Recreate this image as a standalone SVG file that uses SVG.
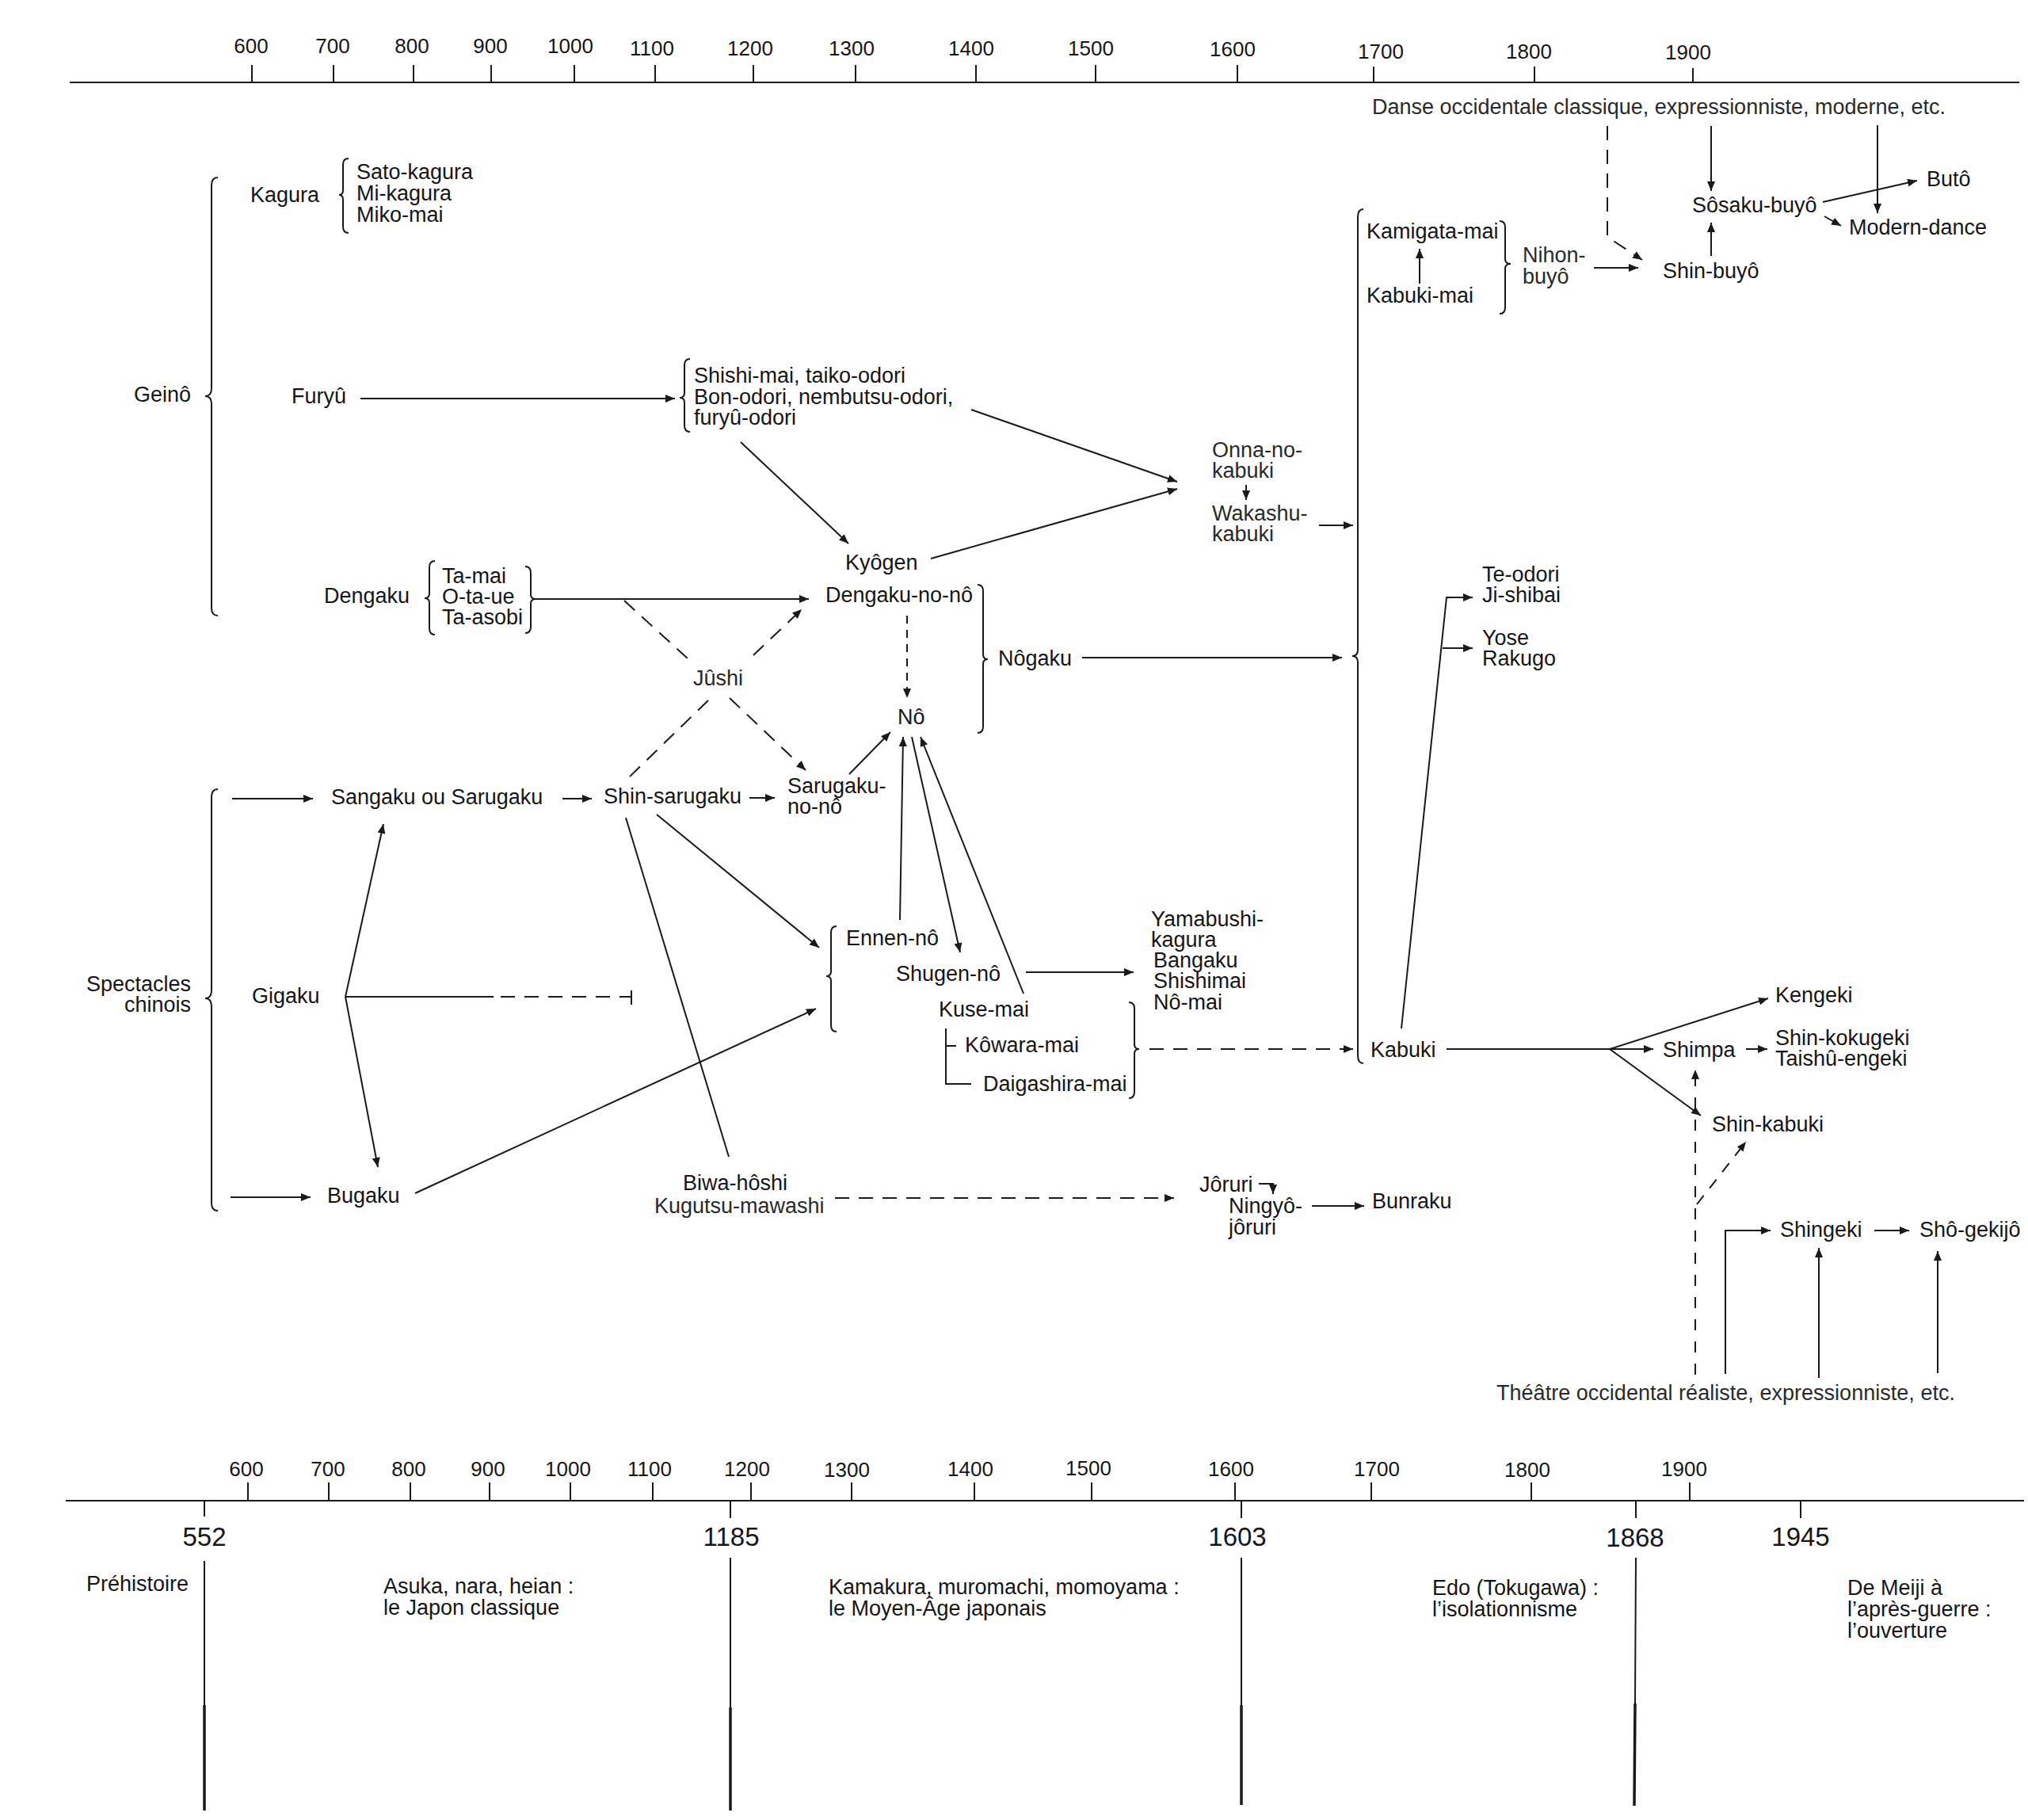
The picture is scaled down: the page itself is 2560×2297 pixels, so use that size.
<svg xmlns="http://www.w3.org/2000/svg" width="2560" height="2297" viewBox="0 0 2560 2297">
<style>
text{font-family:"Liberation Sans",Arial,sans-serif;font-size:27px;fill:#161616}
.lt{fill:#2a2a2a}
.big{font-size:33px}
.ax{text-anchor:middle;font-size:26px}
line,path,polyline{stroke:#1a1a1a;stroke-width:2;fill:none}
.d{stroke-dasharray:18 12}
.ds{stroke-dasharray:10 8}
.th{stroke-width:3.5}
.br{stroke-width:2}
</style>
<defs>
<marker id="a" viewBox="0 0 12 10" refX="12" refY="5" markerWidth="12" markerHeight="10" markerUnits="userSpaceOnUse" orient="auto">
<path d="M0,0 L12,5 L0,10 z" style="fill:#1a1a1a;stroke:none"/>
</marker>
</defs>

<g id="top-axis">
<line x1="88" y1="104" x2="2549" y2="104"/>
<line x1="318" y1="82" x2="318" y2="104"/><line x1="421" y1="82" x2="421" y2="104"/><line x1="522" y1="82" x2="522" y2="104"/><line x1="620" y1="82" x2="620" y2="104"/><line x1="725" y1="82" x2="725" y2="104"/><line x1="827" y1="82" x2="827" y2="104"/><line x1="951" y1="82" x2="951" y2="104"/><line x1="1080" y1="82" x2="1080" y2="104"/><line x1="1232" y1="82" x2="1232" y2="104"/><line x1="1383" y1="82" x2="1383" y2="104"/><line x1="1562" y1="82" x2="1562" y2="104"/><line x1="1734" y1="84" x2="1734" y2="104"/><line x1="1937" y1="84" x2="1937" y2="104"/><line x1="2137" y1="86" x2="2137" y2="104"/>
<text class="ax" x="317" y="67">600</text><text class="ax" x="420" y="67">700</text><text class="ax" x="520" y="67">800</text><text class="ax" x="619" y="67">900</text><text class="ax" x="720" y="67">1000</text><text class="ax" x="823" y="70">1100</text><text class="ax" x="947" y="70">1200</text><text class="ax" x="1075" y="70">1300</text><text class="ax" x="1226" y="70">1400</text><text class="ax" x="1377" y="70">1500</text><text class="ax" x="1556" y="71">1600</text><text class="ax" x="1743" y="74">1700</text><text class="ax" x="1930" y="74">1800</text><text class="ax" x="2131" y="75">1900</text>
</g>

<g id="bottom-axis">
<line x1="83" y1="1894" x2="2555" y2="1894"/>
<line x1="313" y1="1871" x2="313" y2="1894"/><line x1="415" y1="1871" x2="415" y2="1894"/><line x1="518" y1="1871" x2="518" y2="1894"/><line x1="618" y1="1871" x2="618" y2="1894"/><line x1="720" y1="1871" x2="720" y2="1894"/><line x1="824" y1="1871" x2="824" y2="1894"/><line x1="948" y1="1871" x2="948" y2="1894"/><line x1="1075" y1="1871" x2="1075" y2="1894"/><line x1="1230" y1="1871" x2="1230" y2="1894"/><line x1="1378" y1="1871" x2="1378" y2="1894"/><line x1="1559" y1="1871" x2="1559" y2="1894"/><line x1="1731" y1="1871" x2="1731" y2="1894"/><line x1="1933" y1="1871" x2="1933" y2="1894"/><line x1="2133" y1="1871" x2="2133" y2="1894"/>
<text class="ax" x="311" y="1863">600</text><text class="ax" x="414" y="1863">700</text><text class="ax" x="516" y="1863">800</text><text class="ax" x="616" y="1863">900</text><text class="ax" x="717" y="1863">1000</text><text class="ax" x="820" y="1863">1100</text><text class="ax" x="943" y="1863">1200</text><text class="ax" x="1069" y="1864">1300</text><text class="ax" x="1225" y="1863">1400</text><text class="ax" x="1374" y="1862">1500</text><text class="ax" x="1554" y="1863">1600</text><text class="ax" x="1738" y="1863">1700</text><text class="ax" x="1928" y="1864">1800</text><text class="ax" x="2126" y="1863">1900</text>
<line x1="258" y1="1894" x2="258" y2="1914"/><line x1="922" y1="1894" x2="922" y2="1916"/><line x1="1567" y1="1894" x2="1567" y2="1916"/><line x1="2065" y1="1894" x2="2065" y2="1916"/><line x1="2273" y1="1894" x2="2273" y2="1916"/>
<text class="big" x="258" y="1951" text-anchor="middle">552</text>
<text class="big" x="923" y="1951" text-anchor="middle">1185</text>
<text class="big" x="1562" y="1951" text-anchor="middle">1603</text>
<text class="big" x="2064" y="1952" text-anchor="middle">1868</text>
<text class="big" x="2273" y="1951" text-anchor="middle">1945</text>
<line x1="258" y1="1970" x2="258" y2="2152"/><line class="th" x1="258" y1="2152" x2="258" y2="2285"/>
<line x1="922" y1="1966" x2="922" y2="2155"/><line class="th" x1="922" y1="2155" x2="922" y2="2285"/>
<line x1="1567" y1="1966" x2="1567" y2="2152"/><line class="th" x1="1567" y1="2152" x2="1567" y2="2278"/>
<line x1="2065" y1="1966" x2="2064" y2="2150"/><line class="th" x1="2064" y1="2150" x2="2063" y2="2279"/>
<text x="109" y="2008">Préhistoire</text>
<text x="484" y="2011">Asuka, nara, heian :</text><text x="484" y="2038">le Japon classique</text>
<text x="1046" y="2012">Kamakura, muromachi, momoyama :</text><text x="1046" y="2039">le Moyen-Âge japonais</text>
<text x="1808" y="2013">Edo (Tokugawa) :</text><text x="1808" y="2040">l’isolationnisme</text>
<text x="2332" y="2013">De Meiji à</text><text x="2332" y="2040">l’après-guerre :</text><text x="2332" y="2067">l’ouverture</text>
</g>

<g id="connectors">
<line x1="455" y1="503" x2="852" y2="503" marker-end="url(#a)"/>
<line x1="1226" y1="517" x2="1486" y2="608" marker-end="url(#a)"/>
<line x1="1175" y1="705" x2="1486" y2="617" marker-end="url(#a)"/>
<line x1="935" y1="558" x2="1071" y2="686" marker-end="url(#a)"/>
<line x1="1573" y1="612" x2="1573" y2="631" marker-end="url(#a)"/>
<line x1="1665" y1="663" x2="1708" y2="663" marker-end="url(#a)"/>
<line x1="676" y1="756" x2="1021" y2="756" marker-end="url(#a)"/>
<line class="d" x1="788" y1="758" x2="869" y2="832"/>
<line class="d" x1="951" y1="827" x2="1012" y2="769" marker-end="url(#a)"/>
<line class="d" x1="921" y1="881" x2="1017" y2="972" marker-end="url(#a)"/>
<line class="d" x1="894" y1="884" x2="793" y2="982"/>
<line class="ds" x1="1145" y1="777" x2="1145" y2="881" marker-end="url(#a)"/>
<line x1="1366" y1="830" x2="1694" y2="830" marker-end="url(#a)"/>
<line x1="293" y1="1008" x2="395" y2="1008" marker-end="url(#a)"/>
<line x1="710" y1="1008" x2="747" y2="1008" marker-end="url(#a)"/>
<line x1="946" y1="1007" x2="978" y2="1007" marker-end="url(#a)"/>
<line x1="1072" y1="977" x2="1124" y2="924" marker-end="url(#a)"/>
<line x1="829" y1="1028" x2="1034" y2="1196" marker-end="url(#a)"/>
<line x1="790" y1="1032" x2="920" y2="1460"/>
<line x1="524" y1="1506" x2="1030" y2="1273" marker-end="url(#a)"/>
<line x1="1136" y1="1161" x2="1140" y2="930" marker-end="url(#a)"/>
<line x1="1151" y1="930" x2="1212" y2="1202" marker-end="url(#a)"/>
<line x1="1292" y1="1254" x2="1162" y2="930" marker-end="url(#a)"/>
<line x1="1295" y1="1227" x2="1431" y2="1227" marker-end="url(#a)"/>
<polyline points="1194,1298 1194,1368 1226,1368"/>
<line x1="1194" y1="1320" x2="1207" y2="1320"/>
<line class="d" x1="1451" y1="1324" x2="1708" y2="1324" marker-end="url(#a)"/>
<line x1="436" y1="1258" x2="484" y2="1040" marker-end="url(#a)"/>
<line x1="436" y1="1258" x2="477" y2="1473" marker-end="url(#a)"/>
<line x1="436" y1="1258" x2="623" y2="1258"/>
<line class="d" x1="632" y1="1258" x2="797" y2="1258"/>
<line x1="797" y1="1250" x2="797" y2="1268"/>
<line x1="291" y1="1511" x2="392" y2="1511" marker-end="url(#a)"/>
<line class="d" x1="1054" y1="1512" x2="1482" y2="1512" marker-end="url(#a)"/>
<polyline points="1589,1494 1607,1494 1607,1507" marker-end="url(#a)"/>
<line x1="1656" y1="1522" x2="1722" y2="1522" marker-end="url(#a)"/>
<polyline class="d" points="2029,159 2029,299 2073,328" marker-end="url(#a)"/>
<line x1="2160" y1="159" x2="2160" y2="241" marker-end="url(#a)"/>
<line x1="2370" y1="158" x2="2370" y2="269" marker-end="url(#a)"/>
<line x1="2301" y1="255" x2="2420" y2="228" marker-end="url(#a)"/>
<line x1="2303" y1="273" x2="2324" y2="285" marker-end="url(#a)"/>
<line x1="2160" y1="323" x2="2160" y2="281" marker-end="url(#a)"/>
<line x1="1792" y1="358" x2="1792" y2="314" marker-end="url(#a)"/>
<line x1="2012" y1="338" x2="2068" y2="338" marker-end="url(#a)"/>
<polyline points="1769,1298 1826,754 1859,754" marker-end="url(#a)"/>
<line x1="1821" y1="818" x2="1859" y2="818" marker-end="url(#a)"/>
<line x1="1826" y1="1324" x2="2032" y2="1324"/>
<line x1="2032" y1="1324" x2="2087" y2="1324" marker-end="url(#a)"/>
<line x1="2032" y1="1324" x2="2232" y2="1260" marker-end="url(#a)"/>
<line x1="2032" y1="1324" x2="2147" y2="1408" marker-end="url(#a)"/>
<line x1="2204" y1="1324" x2="2231" y2="1324" marker-end="url(#a)"/>
<line class="d" x1="2140" y1="1735" x2="2140" y2="1350" marker-end="url(#a)" style="stroke-dasharray:14 14"/>
<line class="d" x1="2142" y1="1520" x2="2204" y2="1441" marker-end="url(#a)" style="stroke-dasharray:14 12"/>
<polyline points="2178,1734 2178,1553 2235,1553" marker-end="url(#a)"/>
<line x1="2366" y1="1553" x2="2410" y2="1553" marker-end="url(#a)"/>
<line x1="2296" y1="1739" x2="2296" y2="1575" marker-end="url(#a)"/>
<line x1="2446" y1="1733" x2="2446" y2="1579" marker-end="url(#a)"/>
</g>

<g id="geino">
<path class="br" d="M275,224 Q267,224 267,234 L267,490 Q267,500 259,500 Q267,500 267,510 L267,767 Q267,777 275,777"/>
<text x="241" y="507" text-anchor="end">Geinô</text>
</g>
<g id="kagura">
<text x="316" y="255">Kagura</text>
<path class="br" d="M440,200 Q433,200 433,208 L433,240 Q433,246 428,246 Q433,246 433,252 L433,286 Q433,294 440,294"/>
<text x="450" y="226">Sato-kagura</text><text x="450" y="253">Mi-kagura</text><text x="450" y="280">Miko-mai</text>
</g>
<g id="furyu"><text x="368" y="509">Furyû</text></g>
<g id="furyu-odori">
<path class="br" d="M871,453 Q864,453 864,461 L864,496 Q864,502 858,502 Q864,502 864,508 L864,537 Q864,545 871,545"/>
<text x="876" y="483">Shishi-mai, taiko-odori</text><text x="876" y="510">Bon-odori, nembutsu-odori,</text><text x="876" y="536">furyû-odori</text>
</g>
<g id="kabuki-onna"><text class="lt" x="1530" y="577">Onna-no-</text><text class="lt" x="1530" y="603">kabuki</text><text class="lt" x="1530" y="657">Wakashu-</text><text class="lt" x="1530" y="683">kabuki</text></g>
<g id="kyogen"><text x="1067" y="719">Kyôgen</text></g>
<g id="dengaku">
<text x="409" y="761">Dengaku</text>
<path class="br" d="M549,708 Q542,708 542,716 L542,749 Q542,755 536,755 Q542,755 542,761 L542,793 Q542,801 549,801"/>
<text x="558" y="736">Ta-mai</text><text x="558" y="762">O-ta-ue</text><text x="558" y="788">Ta-asobi</text>
<path class="br" d="M663,715 Q670,715 670,723 L670,750 Q670,756 676,756 Q670,756 670,762 L670,791 Q670,799 663,799"/>
</g>
<g id="dengaku-no-no"><text x="1042" y="760">Dengaku-no-nô</text></g>
<g id="jushi"><text class="lt" x="875" y="865">Jûshi</text></g>
<g id="nogaku">
<path class="br" d="M1234,738 Q1241,738 1241,746 L1241,826 Q1241,832 1247,832 Q1241,832 1241,838 L1241,917 Q1241,925 1234,925"/>
<text x="1260" y="840">Nôgaku</text>
</g>
<g id="no"><text x="1133" y="914">Nô</text></g>
<g id="sarugaku-no-no"><text x="994" y="1001">Sarugaku-</text><text x="994" y="1027">no-nô</text></g>
<g id="spectacles">
<path class="br" d="M275,996 Q267,996 267,1006 L267,1250 Q267,1260 259,1260 Q267,1260 267,1270 L267,1518 Q267,1528 275,1528"/>
<text x="241" y="1251" text-anchor="end">Spectacles</text><text x="241" y="1277" text-anchor="end">chinois</text>
</g>
<g id="sangaku"><text x="418" y="1015">Sangaku ou Sarugaku</text></g>
<g id="shin-sarugaku"><text x="762" y="1014">Shin-sarugaku</text></g>
<g id="gigaku"><text x="318" y="1266">Gigaku</text></g>
<g id="bugaku"><text x="413" y="1518">Bugaku</text></g>
<g id="ennen">
<path class="br" d="M1056,1169 Q1049,1169 1049,1177 L1049,1226 Q1049,1232 1043,1232 Q1049,1232 1049,1238 L1049,1294 Q1049,1302 1056,1302"/>
<text x="1068" y="1193">Ennen-nô</text>
</g>
<g id="shugen"><text x="1131" y="1238">Shugen-nô</text></g>
<g id="yamabushi"><text x="1453" y="1169">Yamabushi-</text><text x="1453" y="1195">kagura</text><text x="1456" y="1221">Bangaku</text><text x="1456" y="1247">Shishimai</text><text x="1456" y="1274">Nô-mai</text></g>
<g id="kuse-mai">
<text x="1185" y="1283">Kuse-mai</text><text x="1218" y="1328">Kôwara-mai</text><text x="1241" y="1377">Daigashira-mai</text>
<path class="br" d="M1425,1265 Q1432,1265 1432,1273 L1432,1318 Q1432,1324 1438,1324 Q1432,1324 1432,1330 L1432,1378 Q1432,1386 1425,1386"/>
</g>
<g id="biwa"><text x="862" y="1502">Biwa-hôshi</text><text class="lt" x="826" y="1531">Kugutsu-mawashi</text></g>
<g id="joruri"><text x="1514" y="1504">Jôruri</text><text x="1551" y="1531">Ningyô-</text><text x="1551" y="1558">jôruri</text></g>
<g id="bunraku"><text x="1732" y="1525">Bunraku</text></g>
<g id="danse"><text class="lt" x="1732" y="144" textLength="724" lengthAdjust="spacing">Danse occidentale classique, expressionniste, moderne, etc.</text></g>
<g id="sosaku"><text x="2136" y="268">Sôsaku-buyô</text></g>
<g id="buto"><text x="2432" y="235">Butô</text></g>
<g id="modern"><text x="2334" y="296">Modern-dance</text></g>
<g id="shin-buyo"><text x="2099" y="351">Shin-buyô</text></g>
<g id="kabuki-group">
<path class="br" d="M1721,264 Q1714,264 1714,274 L1714,820 Q1714,828 1707,828 Q1714,828 1714,836 L1714,1332 Q1714,1342 1721,1342"/>
</g>
<g id="nihon-buyo">
<text x="1725" y="301">Kamigata-mai</text><text x="1725" y="382">Kabuki-mai</text>
<path class="br" d="M1893,279 Q1900,279 1900,287 L1900,327 Q1900,333 1907,333 Q1900,333 1900,339 L1900,388 Q1900,396 1893,396"/>
<text class="lt" x="1922" y="331">Nihon-</text><text class="lt" x="1922" y="358">buyô</text>
</g>
<g id="te-odori"><text x="1871" y="734">Te-odori</text><text x="1871" y="760">Ji-shibai</text></g>
<g id="yose"><text x="1871" y="814">Yose</text><text x="1871" y="840">Rakugo</text></g>
<g id="kabuki"><text x="1730" y="1334">Kabuki</text></g>
<g id="kengeki"><text x="2241" y="1265">Kengeki</text></g>
<g id="shimpa"><text x="2099" y="1334">Shimpa</text></g>
<g id="shin-kokugeki"><text x="2241" y="1319">Shin-kokugeki</text><text x="2241" y="1345">Taishû-engeki</text></g>
<g id="shin-kabuki"><text x="2161" y="1428">Shin-kabuki</text></g>
<g id="shingeki"><text x="2247" y="1561">Shingeki</text></g>
<g id="sho-gekijo"><text x="2423" y="1561">Shô-gekijô</text></g>
<g id="theatre"><text class="lt" x="1889" y="1767" textLength="579" lengthAdjust="spacing">Théâtre occidental réaliste, expressionniste, etc.</text></g>
</svg>
